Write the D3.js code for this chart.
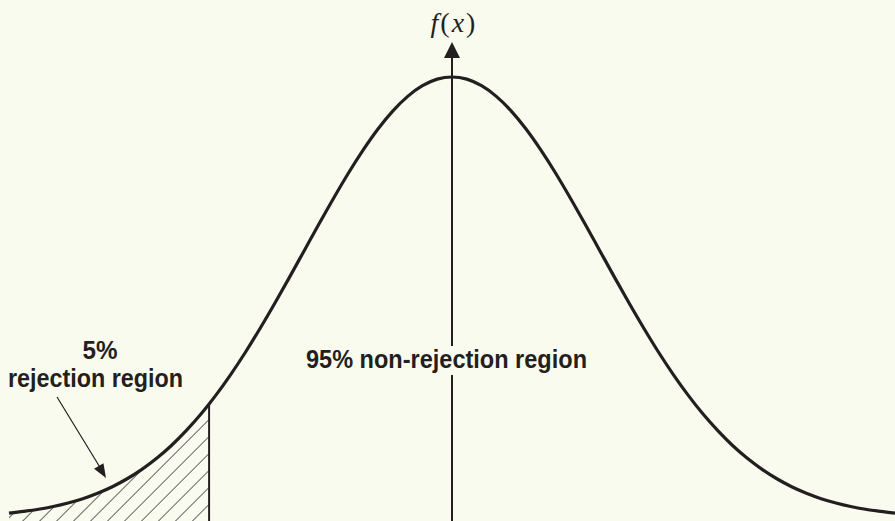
<!DOCTYPE html>
<html>
<head>
<meta charset="utf-8">
<script src="https://cdn.jsdelivr.net/npm/d3@7"></script>
<style>
  html, body { margin: 0; padding: 0; background: #fafbef; }
  svg { display: block; }
</style>
</head>
<body>
<svg id="chart"></svg>
<script>
// Standard normal curve with a 5% one-tailed rejection region

// z values and standard normal densities (read as a table)
const zValues = [
  -3.0, -2.9, -2.8, -2.7, -2.6, -2.5, -2.4, -2.3, -2.2, -2.1,
  -2.0, -1.9, -1.8, -1.7, -1.6, -1.5, -1.4, -1.3, -1.2, -1.1,
  -1.0, -0.9, -0.8, -0.7, -0.6, -0.5, -0.4, -0.3, -0.2, -0.1,
   0.0,
   0.1,  0.2,  0.3,  0.4,  0.5,  0.6,  0.7,  0.8,  0.9,  1.0,
   1.1,  1.2,  1.3,  1.4,  1.5,  1.6,  1.7,  1.8,  1.9,  2.0,
   2.1,  2.2,  2.3,  2.4,  2.5,  2.6,  2.7,  2.8,  2.9,  3.0
];
const densities = [
  0.0044, 0.0060, 0.0079, 0.0104, 0.0136, 0.0175, 0.0224, 0.0283, 0.0355, 0.0440,
  0.0540, 0.0656, 0.0790, 0.0940, 0.1109, 0.1295, 0.1497, 0.1714, 0.1942, 0.2179,
  0.2420, 0.2661, 0.2897, 0.3123, 0.3332, 0.3521, 0.3683, 0.3814, 0.3910, 0.3970,
  0.3989,
  0.3970, 0.3910, 0.3814, 0.3683, 0.3521, 0.3332, 0.3123, 0.2897, 0.2661, 0.2420,
  0.2179, 0.1942, 0.1714, 0.1497, 0.1295, 0.1109, 0.0940, 0.0790, 0.0656, 0.0540,
  0.0440, 0.0355, 0.0283, 0.0224, 0.0175, 0.0136, 0.0104, 0.0079, 0.0060, 0.0044
];
const criticalZ = -1.645;
const criticalDensity = 0.1031;

const axisLabel = "f(x)";
const rejectLabel = ["5%", "rejection region"];
const acceptLabel = "95% non-rejection region";

(function () {
  const W = 895, H = 521;
  const INK = "#231f20";
  const BG = "#fafbef";
  const BOLD = "'Liberation Sans', Arial, 'DejaVu Sans', sans-serif";

  const pts = zValues.map((z, i) => ({ z, d: densities[i] }));
  pts.push({ z: criticalZ, d: criticalDensity });
  pts.sort((a, b) => a.z - b.z);
  const tail = pts.filter(p => p.z <= criticalZ);

  const svg = d3.select("#chart").attr("width", W).attr("height", H);
  svg.append("rect").attr("width", W).attr("height", H).attr("fill", BG);

  const x = d3.scaleLinear().domain([-3, 3]).range([9, 895]);
  const y = d3.scaleLinear().domain([0, 0.3989]).range([518, 77]);

  // hatch pattern
  const defs = svg.append("defs");
  const pat = defs.append("pattern")
    .attr("id", "hatch")
    .attr("patternUnits", "userSpaceOnUse")
    .attr("width", 12).attr("height", 12)
    .attr("patternTransform", "rotate(45)");
  pat.append("line")
    .attr("x1", 0).attr("y1", -2).attr("x2", 0).attr("y2", 14)
    .attr("stroke", INK).attr("stroke-width", 1.4);

  // hatched tail
  const area = d3.area()
    .x(d => x(d.z)).y0(H).y1(d => y(d.d))
    .curve(d3.curveMonotoneX);
  svg.append("path").datum(tail)
    .attr("d", area)
    .attr("fill", "url(#hatch)");

  // critical value line
  svg.append("line")
    .attr("x1", x(criticalZ)).attr("x2", x(criticalZ))
    .attr("y1", y(criticalDensity)).attr("y2", H)
    .attr("stroke", INK).attr("stroke-width", 2);

  // vertical axis with arrow
  const ax = x(0);
  svg.append("line")
    .attr("x1", ax).attr("x2", ax)
    .attr("y1", H).attr("y2", 56)
    .attr("stroke", INK).attr("stroke-width", 2);
  svg.append("path")
    .attr("d", `M${ax},42 L${ax - 8},58 L${ax + 8},58 Z`)
    .attr("fill", INK);

  // curve
  const line = d3.line()
    .x(d => x(d.z)).y(d => y(d.d))
    .curve(d3.curveMonotoneX);
  svg.append("path").datum(pts)
    .attr("d", line)
    .attr("fill", "none")
    .attr("stroke", INK)
    .attr("stroke-width", 3.2)
    .attr("stroke-linejoin", "round");

  // f(x)
  const fx = svg.append("text")
    .attr("x", ax + 2).attr("y", 32)
    .attr("text-anchor", "middle")
    .attr("font-family", "'Liberation Serif', 'DejaVu Serif', serif")
    .attr("font-size", 28)
    .attr("letter-spacing", "2px")
    .attr("fill", INK);
  fx.append("tspan").attr("font-style", "italic").text(axisLabel[0]);
  fx.append("tspan").text(axisLabel[1]);
  fx.append("tspan").attr("font-style", "italic").text(axisLabel[2]);
  fx.append("tspan").text(axisLabel[3]);

  // centre label, knocked out of the axis
  svg.append("rect")
    .attr("x", ax - 5).attr("width", 10)
    .attr("y", 346).attr("height", 29)
    .attr("fill", BG);
  svg.append("text")
    .attr("x", 446.5).attr("y", 368)
    .attr("text-anchor", "middle")
    .attr("font-family", BOLD)
    .attr("font-weight", 700)
    .attr("font-size", 26)
    .attr("textLength", 281).attr("lengthAdjust", "spacingAndGlyphs")
    .attr("fill", INK)
    .text(acceptLabel);

  // left label
  svg.append("text")
    .attr("x", 100).attr("y", 359)
    .attr("text-anchor", "middle")
    .attr("font-family", BOLD)
    .attr("font-weight", 700)
    .attr("font-size", 25)
    .attr("textLength", 35).attr("lengthAdjust", "spacingAndGlyphs")
    .attr("fill", INK)
    .text(rejectLabel[0]);
  svg.append("text")
    .attr("x", 95.5).attr("y", 387)
    .attr("text-anchor", "middle")
    .attr("font-family", BOLD)
    .attr("font-weight", 700)
    .attr("font-size", 26)
    .attr("textLength", 175).attr("lengthAdjust", "spacingAndGlyphs")
    .attr("fill", INK)
    .text(rejectLabel[1]);

  // pointer arrow
  svg.append("line")
    .attr("x1", 57).attr("y1", 397)
    .attr("x2", 101).attr("y2", 469)
    .attr("stroke", INK).attr("stroke-width", 1.2);
  const tip = [106, 478], ang = Math.atan2(478 - 397, 106 - 57);
  const L = 14, Wd = 5.5;
  const bx = tip[0] - L * Math.cos(ang), by = tip[1] - L * Math.sin(ang);
  svg.append("path")
    .attr("d", `M${tip[0]},${tip[1]} L${bx + Wd * Math.sin(ang)},${by - Wd * Math.cos(ang)} L${bx - Wd * Math.sin(ang)},${by + Wd * Math.cos(ang)} Z`)
    .attr("fill", INK);
})();
</script>
</body>
</html>
